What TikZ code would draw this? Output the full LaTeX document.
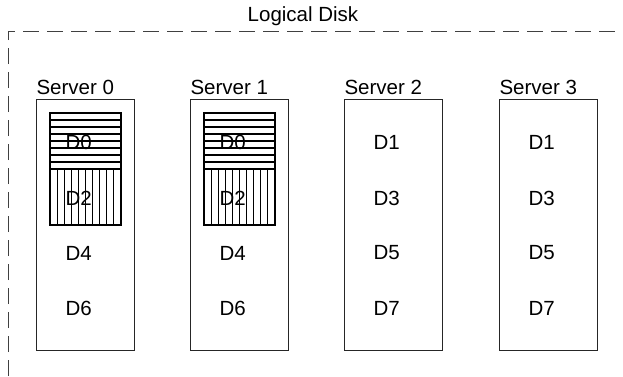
\documentclass[tikz,border=0pt]{standalone}
\usepackage{fontspec}
\setmainfont{Liberation Sans}
\usepackage{tikz}
\usetikzlibrary{positioning}

\begin{document}
\begin{tikzpicture}[x=1pt,y=-1pt,line width=1pt,
  every node/.style={inner sep=0pt,font=\fontsize{20.5}{24}\selectfont},
  srvbox/.style={draw=black!85,anchor=north west,minimum width=98pt,minimum height=251pt},
  hatch/.style={draw=black,line width=1.1pt},
  blk/.style={anchor=west}]
\useasboundingbox (0,0) rectangle (623,376);
\clip (0,0) rectangle (623,376);
% logical disk frame, open to the right and below
\draw[black!75,dash pattern=on 16pt off 8pt] (8,400) -- (8,31) -- (640,31);
\node (disk) at (303,16) {Logical Disk};
% four servers
\foreach \i/\x in {0/36,1/190,2/344,3/499}{
  \node[srvbox] (srv\i) at (\x,99) {};
  \node[anchor=base west] (lbl\i) at (\x,94) {Server \i};
}
% mirrored pair holds the even blocks
\foreach \i/\x in {0/36,1/190}{
  \draw[hatch] (\x+14,113) rectangle (\x+85,169);
  \foreach \k in {1,...,7} \draw[hatch] (\x+14,113+7*\k) -- (\x+85,113+7*\k);
  \draw[hatch] (\x+14,169) rectangle (\x+85,225);
  \foreach \k in {1,...,9} \draw[hatch] (\x+14+7.1*\k,169) -- (\x+14+7.1*\k,225);
  \node[blk] (d0s\i) at (\x+29,142) {D0};
  \node[blk] (d2s\i) at (\x+29,198) {D2};
  \node[blk] (d4s\i) at (\x+29,253) {D4};
  \node[blk] (d6s\i) at (\x+29,308) {D6};
}
% second pair holds the odd blocks
\foreach \i/\x in {2/344,3/499}{
  \node[blk] (d1s\i) at (\x+29,142) {D1};
  \node[blk] (d3s\i) at (\x+29,198) {D3};
  \node[blk] (d5s\i) at (\x+29,253) {D5};
  \node[blk] (d7s\i) at (\x+29,308) {D7};
}
\end{tikzpicture}
\end{document}
